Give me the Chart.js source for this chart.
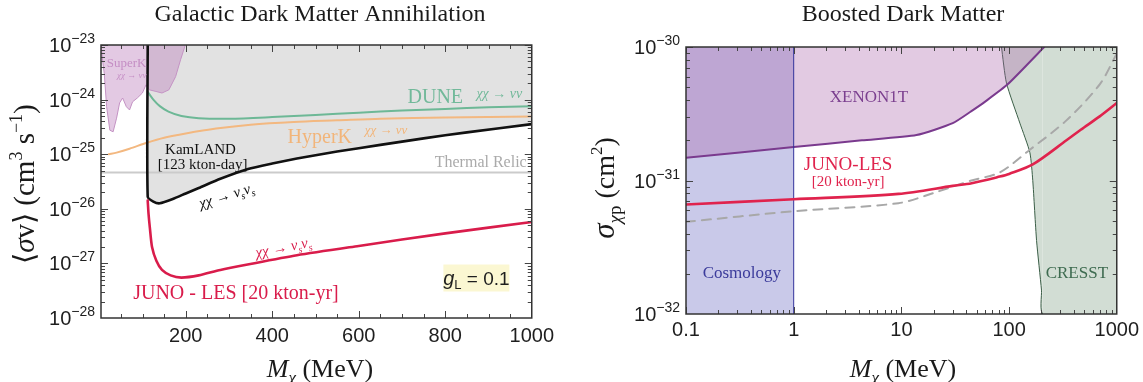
<!DOCTYPE html>
<html>
<head>
<meta charset="utf-8">
<title>Dark matter limits</title>
<script src="https://cdn.jsdelivr.net/npm/chart.js@4.4.1/dist/chart.umd.min.js"></script>
<style>
  html, body { margin: 0; padding: 0; background: #fff; }
  body { width: 1143px; height: 382px; position: relative; overflow: hidden; }
  .panel { position: absolute; top: 0; height: 382px; }
  #leftPanel { left: 0; width: 560px; }
  #rightPanel { left: 570px; width: 573px; }
</style>
</head>
<body>
<div class="panel" id="leftPanel"><canvas id="annChart"></canvas></div>
<div class="panel" id="rightPanel"><canvas id="bdmChart"></canvas></div>
<script>
const SERIF = '"Liberation Serif", "Times New Roman", serif';
const SANS = '"Liberation Sans", Arial, sans-serif';

// ---- Galactic dark matter annihilation (left) ----
const annXTicks = [200, 400, 600, 800, 1000];
const annXMinor = [50, 100, 150, 250, 300, 350, 450, 500, 550, 650, 700, 750, 850, 900, 950];
const annYTicks = [1e-28, 1e-27, 1e-26, 1e-25, 1e-24, 1e-23];

const superkMass = [4, 8, 11.5, 17, 24.5, 32, 40, 47, 54, 62.6, 70, 77, 88, 99.7, 108, 115.7, 131, 145, 161, 176.5, 188, 199];
const superkSigmaV = [1e-23, 5.0e-24, 3.02e-24, 7.41e-25, 2.75e-25, 2.57e-25, 4.57e-25, 8.71e-25, 1.07e-24, 7.41e-25, 6.46e-25,
  9.12e-25, 1.07e-24, 1.32e-24, 1.86e-24, 1.51e-24, 1.41e-24, 1.32e-24, 1.51e-24, 2.63e-24, 5.37e-24, 1e-23];

const kamlandMass = [112, 112, 125, 140, 170, 200, 230, 280, 344, 400, 457, 550, 650, 750, 850, 1000];
const kamlandSigmaV = [1e-23, 1.66e-26, 1.35e-26, 1.26e-26, 1.51e-26, 1.91e-26, 2.40e-26, 3.55e-26, 5.37e-26, 6.76e-26,
  8.32e-26, 1.12e-25, 1.48e-25, 1.95e-25, 2.51e-25, 3.55e-25];

const duneMass = [112, 125, 140, 160, 190, 230, 300, 400, 500, 600, 700, 800, 900, 1000];
const duneSigmaV = [1.38e-24, 1.0e-24, 7.59e-25, 6.03e-25, 5.01e-25, 4.57e-25, 4.47e-25, 4.79e-25, 5.25e-25, 5.75e-25,
  6.31e-25, 6.76e-25, 7.24e-25, 7.59e-25];

const hyperkMass = [22, 40, 70, 110, 150, 200, 270, 350, 450, 550, 650, 800, 1000];
const hyperkSigmaV = [1.0e-25, 1.07e-25, 1.26e-25, 1.62e-25, 2.0e-25, 2.40e-25, 2.95e-25, 3.47e-25, 3.89e-25, 4.17e-25,
  4.47e-25, 4.68e-25, 4.90e-25];

const thermalMass = [4, 1000];
const thermalSigmaV = [4.6e-26, 4.6e-26];

const junoAnnMass = [112, 114, 117, 122, 132, 145, 165, 190, 230, 280, 343, 457, 600, 800, 1000];
const junoAnnSigmaV = [1.41e-26, 7.94e-27, 4.47e-27, 2.0e-27, 1.12e-27, 7.59e-28, 6.03e-28, 5.5e-28, 6.03e-28, 7.59e-28,
  9.55e-28, 1.41e-27, 2.09e-27, 3.55e-27, 5.75e-27];

// ---- Boosted dark matter (right) ----
const bdmXTicks = [0.1, 1, 10, 100, 1000];
const bdmYTicks = [1e-32, 1e-31, 1e-30];

const cosmologyMass = [0.1, 1];
const cosmologySigma = [1e-30, 1e-30];
const cosmologyEdgeMass = [1, 1];
const cosmologyEdgeSigma = [1e-32, 1e-30];

const xenonMass = [0.1, 1, 4.3, 13.8, 30, 44.7, 60, 97, 212];
const xenonSigma = [1.48e-31, 1.78e-31, 2.0e-31, 2.19e-31, 2.69e-31, 3.31e-31, 3.9e-31, 5.25e-31, 1e-30];

const cresstMass = [85, 94.6, 126, 156, 166, 180, 200, 206, 1000];
const cresstSigma = [1e-30, 5.37e-31, 2.69e-31, 1.62e-31, 1e-31, 3.55e-32, 1.51e-32, 1e-32, 1e-32];

const junoBdmMass = [0.1, 1, 9.4, 30, 45, 82, 100, 166, 341, 463, 695, 1000];
const junoBdmSigma = [6.61e-32, 7.24e-32, 7.94e-32, 9.12e-32, 9.55e-32, 1.07e-31, 1.12e-31, 1.32e-31, 2.0e-31, 2.40e-31,
  3.02e-31, 3.80e-31];

const dashedMass = [0.1, 1, 9.4, 20.5, 44.7, 82, 156, 341, 695, 1000];
const dashedSigma = [4.90e-32, 5.89e-32, 6.76e-32, 8.13e-32, 1.0e-31, 1.15e-31, 1.70e-31, 2.82e-31, 5.25e-31, 8.91e-31];

function pts(xs, ys) {
  return xs.map((x, i) => ({ x: x, y: ys[i] }));
}

function minorLog(majors) {
  return majors.slice(0, -1).flatMap(v => [2, 3, 4, 5, 6, 7, 8, 9].map(k => k * v));
}

const sf = (size, style) => ((style ? style + ' ' : '') + size + 'px ' + SERIF);

function chiNu(size) {
  return [['χχ', sf(size, 'italic')], [' → ', sf(size)], ['νν', sf(size, 'italic')]];
}

function chiSterile(size) {
  const it = sf(size, 'italic');
  const sub = sf(Math.round(size * 0.65), 'italic');
  return [['χχ', it], [' → ', sf(size)], ['ν', it], ['s', sub, size * 0.25], ['ν', it], ['s', sub, size * 0.25]];
}

// draw text made of pieces (font changes, sub/superscripts); y is the baseline
function richText(ctx, parts, x, y, align) {
  let width = 0;
  parts.forEach(p => { ctx.font = p[1]; width += ctx.measureText(p[0]).width; });
  let cx = align === 'right' ? x - width : align === 'left' ? x : x - width / 2;
  ctx.textAlign = 'left';
  ctx.textBaseline = 'alphabetic';
  parts.forEach(p => {
    ctx.font = p[1];
    ctx.fillText(p[0], cx, y + (p[2] || 0));
    cx += ctx.measureText(p[0]).width;
  });
  return width;
}

const decor = {
  id: 'decor',
  afterDraw(chart, args, o) {
    const ctx = chart.ctx;
    const a = chart.chartArea;
    const xs = chart.scales.x;
    const ys = chart.scales.y;
    ctx.save();

    // Mathematica style frame ticks, pointing inwards on all sides
    ctx.strokeStyle = '#444';
    ctx.lineWidth = 1;
    ctx.beginPath();
    const markX = (v, len) => {
      const p = Math.round(xs.getPixelForValue(v)) + 0.5;
      if (p < a.left || p > a.right) return;
      ctx.moveTo(p, a.bottom); ctx.lineTo(p, a.bottom - len);
      ctx.moveTo(p, a.top); ctx.lineTo(p, a.top + len);
    };
    const markY = (v, len) => {
      const p = Math.round(ys.getPixelForValue(v)) + 0.5;
      if (p < a.top || p > a.bottom) return;
      ctx.moveTo(a.left, p); ctx.lineTo(a.left + len, p);
      ctx.moveTo(a.right, p); ctx.lineTo(a.right - len, p);
    };
    o.xMajor.forEach(v => markX(v, 7));
    o.xMinor.forEach(v => markX(v, 4));
    o.yMajor.forEach(v => markY(v, 7));
    o.yMinor.forEach(v => markY(v, 4));
    ctx.stroke();

    ctx.lineWidth = 1.5;
    ctx.strokeStyle = '#333';
    ctx.strokeRect(a.left, a.top, a.right - a.left, a.bottom - a.top);

    // y tick labels as 10^n
    ctx.fillStyle = '#1e1e1e';
    o.yMajor.forEach(v => {
      const p = ys.getPixelForValue(v);
      const e = Math.round(Math.log10(v));
      richText(ctx, [['10', '20px ' + SANS], ['−' + Math.abs(e), '14px ' + SANS, -9]], a.left - 6, p + 7, 'right');
    });

    // boxes
    (o.boxes || []).forEach(b => {
      const cx = xs.getPixelForValue(b.x);
      const cy = ys.getPixelForValue(b.y);
      ctx.fillStyle = b.fill;
      ctx.fillRect(cx - b.w / 2, cy - b.h / 2, b.w, b.h);
      ctx.fillStyle = b.color;
      richText(ctx, b.parts, cx, cy + 7, 'center');
    });

    // in-plot labels, anchored in data coordinates
    o.labels.forEach(l => {
      const cx = xs.getPixelForValue(l.x);
      const cy = ys.getPixelForValue(l.y);
      ctx.save();
      ctx.translate(cx, cy);
      if (l.rotate) ctx.rotate(l.rotate * Math.PI / 180);
      ctx.fillStyle = l.color;
      richText(ctx, l.parts, 0, l.size * 0.34, 'center');
      ctx.restore();
    });

    // titles
    ctx.fillStyle = '#1a1a1a';
    richText(ctx, [[o.title.text, sf(24)]], o.title.x, o.title.y, 'center');
    richText(ctx, o.xTitle.parts, o.xTitle.x, o.xTitle.y, 'center');
    ctx.save();
    ctx.translate(o.yTitle.x, o.yTitle.y);
    ctx.rotate(-Math.PI / 2);
    richText(ctx, o.yTitle.parts, 0, 9, 'center');
    ctx.restore();

    ctx.restore();
  }
};

const xTitleParts = [['M', sf(26, 'italic')], ['χ', sf(17, 'italic'), 6], [' (MeV)', sf(26)]];

function baseOptions(extra) {
  return Object.assign({
    responsive: true,
    maintainAspectRatio: false,
    animation: false,
    events: [],
    elements: { point: { radius: 0 }, line: { borderCapStyle: 'round' } },
    plugins: { legend: { display: false }, tooltip: { enabled: false } }
  }, extra);
}

const red = '#d91c4b';

new Chart(document.getElementById('annChart'), {
  type: 'line',
  data: {
    datasets: [
      { label: 'KamLAND region', data: pts(kamlandMass, kamlandSigmaV), fill: 'end',
        backgroundColor: 'rgba(150,150,150,0.28)', borderWidth: 0, tension: 0.2, order: 10, clip: 0 },
      { label: 'SuperK', data: pts(superkMass, superkSigmaV), fill: 'end',
        backgroundColor: 'rgba(185,120,185,0.4)', borderColor: '#c493c4', borderWidth: 1, tension: 0, order: 9, clip: 0 },
      { label: 'Thermal Relic', data: pts(thermalMass, thermalSigmaV), borderColor: '#cbcbcb', borderWidth: 2, order: 8, clip: 0 },
      { label: 'HyperK', data: pts(hyperkMass, hyperkSigmaV), borderColor: '#f3b880', borderWidth: 2, tension: 0.3, order: 6, clip: 0 },
      { label: 'DUNE', data: pts(duneMass, duneSigmaV), borderColor: '#6db896', borderWidth: 2, tension: 0.3, order: 5, clip: 0 },
      { label: 'KamLAND', data: pts(kamlandMass, kamlandSigmaV), borderColor: '#111', borderWidth: 2.6, tension: 0.2, order: 2, clip: 0 },
      { label: 'JUNO - LES', data: pts(junoAnnMass, junoAnnSigmaV), borderColor: red, borderWidth: 2.6, tension: 0.25, order: 1, clip: 0 }
    ]
  },
  options: baseOptions({
    layout: { padding: { top: 45, right: 22, left: 0, bottom: 0 } },
    scales: {
      x: {
        type: 'linear', min: 4, max: 1000,
        afterBuildTicks: s => { s.ticks = annXTicks.map(v => ({ value: v })); },
        afterFit: s => { s.height = 64; },
        grid: { display: false, drawTicks: false },
        border: { display: false },
        ticks: { color: '#1e1e1e', font: { family: SANS, size: 20 }, padding: 6, maxRotation: 0, autoSkip: false, callback: v => String(v) }
      },
      y: {
        type: 'logarithmic', min: 1e-28, max: 1e-23,
        afterFit: s => { s.width = 101; },
        grid: { display: false }, border: { display: false }, ticks: { display: false }
      }
    },
    plugins: {
      legend: { display: false }, tooltip: { enabled: false },
      decor: {
        xMajor: annXTicks, xMinor: annXMinor, yMajor: annYTicks, yMinor: minorLog(annYTicks),
        title: { text: 'Galactic Dark Matter Annihilation', x: 320, y: 21 },
        xTitle: { parts: xTitleParts, x: 320, y: 377 },
        yTitle: { x: 25, y: 184, parts: [['⟨', sf(29)], ['σ', sf(29, 'italic')], ['v⟩ (cm', sf(29)], ['3', sf(18), -12],
          [' s', sf(29)], ['−1', sf(18), -12], [')', sf(29)]] },
        boxes: [{ x: 872, y: 5.4e-28, w: 66, h: 27, fill: '#fbf7d2', color: '#1e1e1e',
          parts: [['g', 'italic 20px ' + SANS], ['L', '13px ' + SANS, 4], [' = 0.1', '19px ' + SANS]] }],
        labels: [
          { x: 63, y: 4.7e-24, size: 13, color: '#c58ec5', parts: [['SuperK', sf(13)]] },
          { x: 75, y: 2.8e-24, size: 9, color: '#c58ec5', parts: chiNu(9) },
          { x: 777, y: 1.17e-24, size: 20, color: '#72b99a', parts: [['DUNE', sf(20)]] },
          { x: 925, y: 1.32e-24, size: 14, color: '#72b99a', parts: chiNu(14) },
          { x: 510, y: 2.14e-25, size: 20, color: '#f2b57a', parts: [['HyperK', sf(20)]] },
          { x: 663, y: 2.88e-25, size: 13, color: '#f2b57a', parts: chiNu(13) },
          { x: 234, y: 1.26e-25, size: 15, color: '#111', parts: [['KamLAND', sf(15)]] },
          { x: 239, y: 6.6e-26, size: 15, color: '#111', parts: [['[123 kton-day]', sf(15)]] },
          { x: 882, y: 7.2e-26, size: 16, color: '#aaaaaa', parts: [['Thermal Relic', sf(16)]] },
          { x: 294, y: 1.78e-26, size: 15, color: '#111', rotate: -17, parts: chiSterile(15) },
          { x: 426, y: 2.0e-27, size: 15, color: red, rotate: -11, parts: chiSterile(15) },
          { x: 316, y: 3.0e-28, size: 20, color: red, parts: [['JUNO - LES [20 kton-yr]', sf(20)]] }
        ]
      }
    }
  }),
  plugins: [decor]
});

const bdmRed = '#e0234d';
const cresstGreen = '#3b5e47';

new Chart(document.getElementById('bdmChart'), {
  type: 'line',
  data: {
    datasets: [
      { label: 'Cosmology', data: pts(cosmologyMass, cosmologySigma), fill: 'start',
        backgroundColor: 'rgba(120,120,200,0.4)', borderWidth: 0, order: 10, clip: 0 },
      { label: 'CRESST', data: pts(cresstMass, cresstSigma), fill: 'end',
        backgroundColor: 'rgba(130,160,135,0.36)', borderColor: cresstGreen, borderWidth: 1, tension: 0.2, order: 9, clip: 0,
        segment: { borderColor: c => (c.p0.parsed.x >= 205 ? 'rgba(0,0,0,0)' : cresstGreen) } },
      { label: 'XENON1T', data: pts(xenonMass, xenonSigma), fill: 'end',
        backgroundColor: 'rgba(170,100,170,0.34)', borderColor: '#7a3a8e', borderWidth: 2, tension: 0.2, order: 8, clip: 0 },
      { label: 'Cosmology edge', data: pts(cosmologyEdgeMass, cosmologyEdgeSigma), borderColor: '#30309a', borderWidth: 1, order: 3, clip: 0 },
      { label: 'Dashed', data: pts(dashedMass, dashedSigma), borderColor: '#a8a8a8', borderWidth: 2, borderDash: [9, 7],
        tension: 0.3, order: 2, clip: 0 },
      { label: 'JUNO-LES', data: pts(junoBdmMass, junoBdmSigma), borderColor: bdmRed, borderWidth: 2.6, tension: 0.3, order: 1, clip: 0 }
    ]
  },
  options: baseOptions({
    layout: { padding: { top: 47, right: 26, left: 0, bottom: 0 } },
    scales: {
      x: {
        type: 'logarithmic', min: 0.1, max: 1000,
        afterBuildTicks: s => { s.ticks = bdmXTicks.map(v => ({ value: v })); },
        afterFit: s => { s.height = 68; },
        grid: { display: false, drawTicks: false },
        border: { display: false },
        ticks: { color: '#1e1e1e', font: { family: SANS, size: 20 }, padding: 4, maxRotation: 0, autoSkip: false, callback: v => String(v) }
      },
      y: {
        type: 'logarithmic', min: 1e-32, max: 1e-30,
        afterFit: s => { s.width = 116; },
        grid: { display: false }, border: { display: false }, ticks: { display: false }
      }
    },
    plugins: {
      legend: { display: false }, tooltip: { enabled: false },
      decor: {
        xMajor: bdmXTicks, xMinor: minorLog(bdmXTicks), yMajor: bdmYTicks, yMinor: minorLog(bdmYTicks),
        title: { text: 'Boosted Dark Matter', x: 333, y: 21 },
        xTitle: { parts: xTitleParts, x: 333, y: 377 },
        yTitle: { x: 35, y: 188, parts: [['σ', sf(31, 'italic')], ['χ', sf(19, 'italic'), 7], ['p', sf(19), 7],
          [' (cm', sf(28)], ['2', sf(17), -12], [')', sf(28)]] },
        labels: [
          { x: 5.0, y: 4.3e-31, size: 17, color: '#7b3f8f', parts: [['XENON1T', sf(17)]] },
          { x: 3.2, y: 1.35e-31, size: 19, color: bdmRed, parts: [['JUNO-LES', sf(19)]] },
          { x: 3.2, y: 1.0e-31, size: 15, color: bdmRed, parts: [['[20 kton-yr]', sf(15)]] },
          { x: 0.33, y: 2.04e-32, size: 17, color: '#3b3b9b', parts: [['Cosmology', sf(17)]] },
          { x: 426, y: 2.04e-32, size: 17, color: '#3e6b50', parts: [['CRESST', sf(17)]] }
        ]
      }
    }
  }),
  plugins: [decor]
});
</script>
</body>
</html>
